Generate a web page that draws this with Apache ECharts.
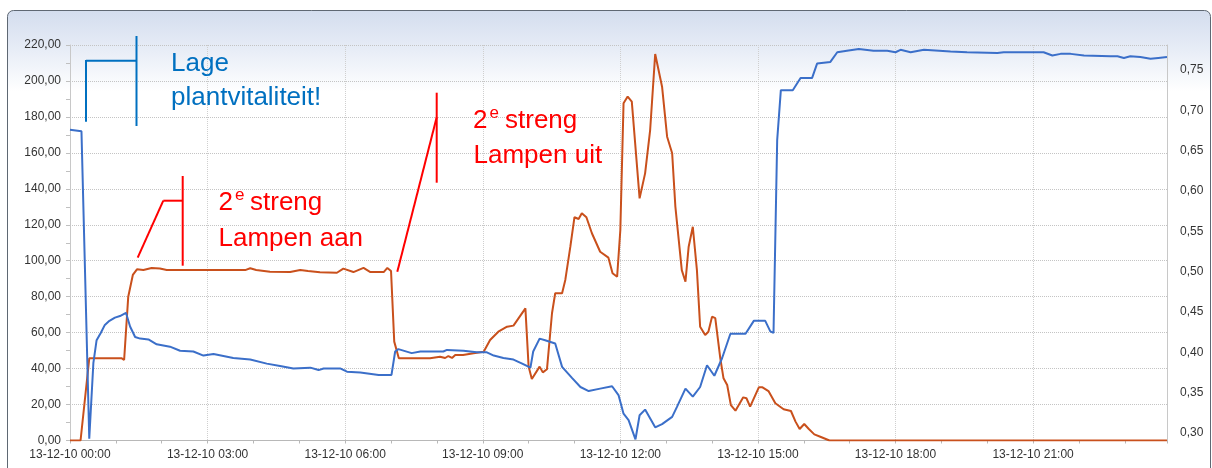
<!DOCTYPE html>
<html>
<head>
<meta charset="utf-8">
<script src="https://cdn.jsdelivr.net/npm/echarts@6/dist/echarts.min.js"></script>
<style>
html,body{margin:0;padding:0;background:#fff;}
#c{width:1212px;height:468px;}
</style>
</head>
<body>
<div id="c"></div>
<script>
// ---- data (hours since 13-12-10 00:00) ----
const datePrefix = '13-12-10';
const orangeTimes = [0,0.23,0.42,1.13,1.18,1.27,1.37,1.46,1.6,1.78,1.96,2.11,3.82,3.93,4.06,4.36,4.8,5.02,5.19,5.45,5.82,5.96,6.18,6.4,6.55,6.84,6.92,7.0,7.07,7.17,7.85,8.07,8.18,8.25,8.33,8.4,8.57,8.8,9.02,9.16,9.34,9.53,9.67,9.93,10.0,10.07,10.24,10.31,10.4,10.51,10.58,10.73,10.8,10.91,11.0,11.09,11.16,11.26,11.38,11.56,11.74,11.83,11.93,12.0,12.07,12.16,12.25,12.42,12.54,12.65,12.76,12.91,13.02,13.13,13.2,13.34,13.42,13.49,13.58,13.67,13.74,13.85,13.92,14.0,14.07,14.18,14.25,14.33,14.41,14.51,14.68,14.75,14.83,15.02,15.1,15.23,15.38,15.56,15.72,15.82,15.91,16.01,16.11,16.23,16.36,16.56,23.92];
const orangeValues = [0,0,45.7,45.7,44.8,80.0,92.1,95.2,94.8,96.0,95.7,94.8,94.8,95.8,94.8,93.9,93.7,94.8,94.3,93.6,93.3,95.6,93.7,96.0,93.7,93.7,96.0,94.3,55.0,45.7,45.7,46.6,45.9,47.0,45.9,47.6,47.6,48.5,49.4,55.9,60.5,63.3,63.9,73.5,41.1,34.2,41.1,37.9,39.6,70.8,81.9,81.9,89.3,107.8,124.2,123.2,126.4,124.2,115.3,105.0,101.7,93.0,91.1,117.1,187.6,191.3,188.5,134.7,148.6,172.7,215.0,196.8,169.0,159.8,130.1,94.8,88.3,107.8,118.9,94.8,63.3,58.7,60.5,68.9,68.1,45.7,34.6,30.9,19.7,16.6,24.0,23.5,18.8,29.6,29.6,27.5,20.7,17.4,16.4,10.5,6.4,9.2,6.4,3.4,2.1,0,0];
const blueTimes = [0,0.25,0.42,0.51,0.58,0.67,0.76,0.86,0.98,1.09,1.22,1.31,1.42,1.53,1.71,1.89,2.18,2.4,2.69,2.91,3.13,3.56,3.93,4.29,4.58,4.87,5.24,5.42,5.53,5.89,6.04,6.33,6.73,7.01,7.09,7.16,7.45,7.64,8.14,8.22,8.58,8.87,9.09,9.24,9.45,9.67,9.86,10.04,10.1,10.24,10.36,10.58,10.73,10.95,11.13,11.31,11.56,11.82,11.96,12.07,12.18,12.33,12.42,12.54,12.76,12.91,13.13,13.24,13.42,13.58,13.74,13.89,14.05,14.22,14.4,14.73,14.91,15.16,15.27,15.34,15.42,15.5,15.76,15.93,16.18,16.29,16.58,16.73,16.94,17.2,17.52,17.82,18.0,18.11,18.33,18.62,19.2,19.56,20.22,20.36,20.72,21.23,21.42,21.6,21.82,22.11,22.69,22.84,22.98,23.12,23.34,23.56,23.73,23.92];
const blueValues = [0.676,0.674,0.293,0.387,0.415,0.424,0.434,0.439,0.443,0.445,0.449,0.432,0.419,0.417,0.416,0.410,0.407,0.402,0.401,0.396,0.398,0.393,0.391,0.386,0.383,0.380,0.381,0.378,0.380,0.380,0.376,0.375,0.372,0.372,0.401,0.404,0.399,0.401,0.401,0.403,0.402,0.400,0.400,0.396,0.393,0.391,0.386,0.381,0.401,0.417,0.415,0.411,0.382,0.368,0.357,0.352,0.355,0.358,0.347,0.324,0.316,0.292,0.322,0.329,0.307,0.311,0.320,0.333,0.355,0.345,0.357,0.384,0.371,0.393,0.423,0.423,0.439,0.439,0.426,0.424,0.663,0.725,0.725,0.740,0.740,0.758,0.760,0.772,0.774,0.776,0.774,0.774,0.772,0.775,0.772,0.775,0.773,0.772,0.771,0.772,0.772,0.772,0.768,0.770,0.770,0.768,0.767,0.767,0.765,0.767,0.766,0.764,0.765,0.766];
const leftMin = 0, leftMax = 220, leftStep = 20;
const rightTickValues = [0.30,0.35,0.40,0.45,0.50,0.55,0.60,0.65,0.70,0.75];
const rightMin = 0.2907, rightMax = 0.781;
const xMax = 23.92;

const orangeData = orangeTimes.map((t,i)=>[t, orangeValues[i]]);
const blueData = blueTimes.map((t,i)=>[t, blueValues[i]]);

const FONT = '"Liberation Sans", Arial, sans-serif';
const comma = (v,d)=>v.toFixed(d).replace('.', ',');
const pad = n => (n<10?'0':'')+n;

const chart = echarts.init(document.getElementById('c'), null, {renderer:'canvas'});
const RED = '#ff0000', BLUE_T = '#0070c0';
function txt(x,y,s,size,color){
  return {type:'text', z:20, x:x, y:y, style:{text:s, fill:color, font:size+'px '+FONT, textAlign:'left', textVerticalAlign:'middle'}};
}
function ln(x1,y1,x2,y2,color){
  return {type:'line', z:20, shape:{x1:x1,y1:y1,x2:x2,y2:y2}, style:{stroke:color, lineWidth:2}};
}
chart.setOption({
  animation:false,
  backgroundColor:'#ffffff',
  grid:{left:70, top:45, width:1097, height:395.5, containLabel:false},
  xAxis:{
    type:'value', min:0, max:xMax, interval:3,
    axisLine:{show:true, lineStyle:{color:'#b8b8b8', width:1}},
    axisTick:{show:true, length:3, lineStyle:{color:'#b8b8b8'}},
    minorTick:{show:true, splitNumber:3, length:3, lineStyle:{color:'#b8b8b8'}},
    splitLine:{show:true, showMaxLine:false, lineStyle:{color:'#cfcfcf', type:'dotted', width:1}},
    axisLabel:{color:'#333', fontFamily:FONT, fontSize:12, margin:8, showMaxLabel:false,
      formatter:v=>datePrefix+' '+pad(Math.round(v))+':00'}
  },
  yAxis:[{
    type:'value', min:leftMin, max:leftMax, interval:leftStep, position:'left',
    axisLine:{show:true, lineStyle:{color:'#c8c8c8'}},
    axisTick:{show:true, length:4, lineStyle:{color:'#c0c0c0'}},
    minorTick:{show:true, splitNumber:2, length:4, lineStyle:{color:'#c0c0c0'}},
    splitLine:{show:true, lineStyle:{color:'#c4c4c4', type:'dotted', width:1}},
    axisLabel:{color:'#333', fontFamily:FONT, fontSize:12, margin:9, formatter:v=>comma(v,2)}
  },{
    type:'value', min:rightMin, max:rightMax, position:'right',
    axisLine:{show:true, lineStyle:{color:'#c8c8c8'}},
    axisTick:{show:false},
    splitLine:{show:false},
    axisLabel:{color:'#333', fontFamily:FONT, fontSize:12, margin:13,
      customValues:rightTickValues, formatter:v=>comma(v,2)}
  }],
  series:[{
    type:'line', name:'licht', yAxisIndex:0, data:orangeData, symbol:'none',
    lineStyle:{color:'#c9501c', width:2}, z:3
  },{
    type:'line', name:'vitaliteit', yAxisIndex:1, data:blueData, symbol:'none',
    lineStyle:{color:'#3b6fc9', width:2}, z:4
  }],
  graphic:[
    {type:'rect', z:-10, silent:true,
     shape:{x:7.5, y:10.5, width:1203, height:480, r:6},
     style:{stroke:'#5f6873', lineWidth:1,
       fill:{type:'linear', x:0, y:0, x2:0, y2:1, colorStops:[
         {offset:0, color:'#d3ddee'},{offset:0.07, color:'#e4eaf5'},{offset:0.17, color:'#ffffff'},{offset:1, color:'#ffffff'}]}}},
    // blue annotation
    ln(136.5,36,136.5,126,BLUE_T), ln(86,60.7,136.5,60.7,BLUE_T), ln(86,60,86,121.7,BLUE_T),
    txt(171,63.5,'Lage',26,BLUE_T), txt(171,98.3,'plantvitaliteit!',26,BLUE_T),
    // red annotation 1
    ln(182.7,176,182.7,265.7,RED), ln(163.3,200.7,182.7,200.7,RED), ln(163.3,200.7,137.7,257.7,RED),
    txt(218.5,202.7,'2',26,RED), txt(235,195.5,'e',17,RED), txt(250,202.7,'streng',26,RED),
    txt(218.5,239.3,'Lampen aan',26,RED),
    // red annotation 2
    ln(436.7,92.7,436.7,182.7,RED), ln(436.7,117.3,397.3,271.7,RED),
    txt(473,121,'2',26,RED), txt(489.5,113.5,'e',17,RED), txt(505,121,'streng',26,RED),
    txt(473.5,156,'Lampen uit',26,RED)
  ]
});
</script>
</body>
</html>
